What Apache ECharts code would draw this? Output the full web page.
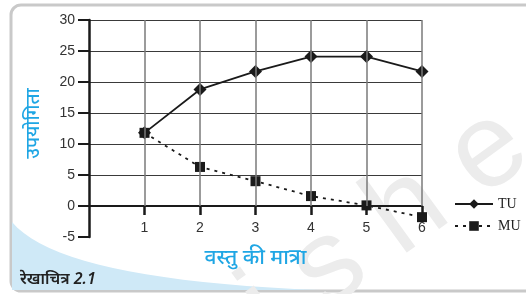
<!DOCTYPE html>
<html>
<head>
<meta charset="UTF-8">
<style>
html,body{margin:0;padding:0;background:#fff;}
#main{width:526px;height:294px;}
</style>
<title>उपयोगिता</title>
</head>
<body>
<div id="main"></div>
<script src="https://cdn.jsdelivr.net/npm/echarts@6/dist/echarts.min.js"></script>
<script>
// data
var quantity = [1, 2, 3, 4, 5, 6];
var tu = [11.8, 18.8, 21.7, 24.1, 24.1, 21.7];
var mu = [11.8, 6.3, 4.0, 1.6, 0.1, -1.8];
var yTicks = [-5, 0, 5, 10, 15, 20, 25, 30];

var ink = '#1a1a1a';
var blue = '#1fa6e4';

var chart = echarts.init(document.getElementById('main'));

// vertical grid lines only between 0 and 30
var vLines = [];
for (var i = 0; i < quantity.length; i++) {
	vLines.push([{coord: [quantity[i], 0]}, {coord: [quantity[i], yTicks[yTicks.length - 1]]}]);
}
// horizontal grid: no line at -5
var hColors = yTicks.map(function (v) { return v < 0 ? 'rgba(0,0,0,0)' : '#3a3a3a'; });

// light blue corner shape (quadratic curve as polygon)
var corner = [];
for (var t = 0; t <= 1.0001; t += 0.05) {
	var a = (1 - t) * (1 - t), b = 2 * t * (1 - t), c = t * t;
	corner.push([a * 12 + b * 60 + c * 320, a * 222 + b * 280 + c * 290]);
}
corner.push([12, 290]);

chart.setOption({
	animation: false,
	backgroundColor: '#fff',
	graphic: [
		// page frame
		{type: 'rect', z: -10, shape: {x: 11, y: 5, width: 540, height: 286, r: 10},
			style: {fill: '#fff', stroke: '#c9c9c9', lineWidth: 3}},
		{type: 'polygon', z: -9, shape: {points: corner}, style: {fill: '#cfe9f7'}},
		// faint watermark
		{type: 'text', z: -8, x: 135, y: 335, rotation: Math.PI / 5,
			style: {text: 'T i s h e', fill: '#ececec', font: '120px "Liberation Sans"'}},
		{type: 'text', z: 5, left: 20, top: 271,
			style: {text: 'रेखाचित्र 2.1', fill: '#222', font: 'italic 600 16px "Noto Sans", sans-serif'}}
	],
	grid: {left: 89, right: 104, top: 20, bottom: 57, outerBoundsMode: 'none', containLabel: false},
	legend: {
		orient: 'vertical', left: 449, top: 192, itemGap: 8,
		itemWidth: 38, itemHeight: 12,
		textStyle: {fontFamily: '"Liberation Serif", serif', fontSize: 14, color: '#222'},
		data: ['TU', 'MU']
	},
	xAxis: {
		type: 'value', min: 0, max: 6, interval: 1,
		name: 'वस्तु की मात्रा', nameLocation: 'middle', nameGap: 11,
		nameTextStyle: {color: blue, fontSize: 21, fontWeight: 500, fontFamily: '"Noto Sans", sans-serif'},
		axisLine: {onZero: true, lineStyle: {color: ink, width: 2}},
		axisTick: {show: true, length: 9, lineStyle: {color: ink, width: 2.5}},
		axisLabel: {showMinLabel: false, margin: -16, color: '#333', fontSize: 14,
			fontFamily: '"Liberation Sans", sans-serif'},
		splitLine: {show: false}
	},
	yAxis: {
		type: 'value', min: -5, max: 30, interval: 5,
		name: 'उपयोगिता', nameLocation: 'middle', nameGap: 46, nameRotate: 90,
		nameTextStyle: {color: blue, fontSize: 19, fontWeight: 500, fontFamily: '"Noto Sans", sans-serif',
			padding: [0, 0, 0, 10]},
		axisLine: {show: true, onZero: false, lineStyle: {color: ink, width: 2.5}},
		axisTick: {show: true, length: 11, lineStyle: {color: ink, width: 2}},
		axisLabel: {margin: 14, color: '#333', fontSize: 14, fontFamily: '"Liberation Sans", sans-serif'},
		splitLine: {show: true, lineStyle: {color: hColors, width: 1.2}}
	},
	series: [
		{
			name: 'TU', type: 'line',
			data: quantity.map(function (q, k) { return [q, tu[k]]; }),
			symbol: 'diamond', symbolSize: 13,
			itemStyle: {color: ink},
			lineStyle: {color: ink, width: 1.8},
			z: 4,
			markLine: {
				silent: true, symbol: 'none', label: {show: false},
				lineStyle: {color: '#7a7a7a', width: 1.5, type: 'solid'},
				data: vLines
			}
		},
		{
			name: 'MU', type: 'line',
			data: quantity.map(function (q, k) { return [q, mu[k]]; }),
			symbol: 'rect', symbolSize: 10,
			itemStyle: {color: ink},
			lineStyle: {color: ink, width: 1.8, type: [3, 5]},
			z: 3
		}
	]
});
</script>
</body>
</html>
